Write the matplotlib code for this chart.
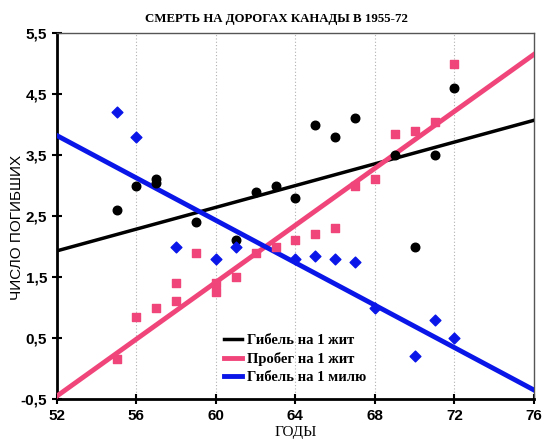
import numpy as np
import matplotlib
matplotlib.use('Agg')
import matplotlib.pyplot as plt
import matplotlib.ticker as ticker

#
# Data
#

# Гибель на 1 жит (black circles)
deaths_pop_years = [55, 56, 57, 57, 59, 61, 62, 63, 64, 65, 66, 67, 69, 70, 71, 72]
deaths_pop_values = [2.6, 3.0, 3.1, 3.05, 2.4, 2.1, 2.9, 3.0, 2.8, 4.0, 3.8, 4.1, 3.5, 2.0, 3.5, 4.6]

# Пробег на 1 жит (pink squares)
miles_pop_years = [55, 56, 57, 58, 58, 59, 60, 60, 61, 62, 63, 64, 65, 66, 67, 68, 69, 70, 71, 72]
miles_pop_values = [0.15, 0.85, 1.0, 1.1, 1.4, 1.9, 1.25, 1.4, 1.5, 1.9, 2.0, 2.1, 2.2, 2.3, 3.0, 3.1, 3.85, 3.9, 4.05, 5.0]

# Гибель на 1 милю (blue diamonds)
deaths_mile_years = [55, 56, 58, 60, 61, 64, 65, 66, 67, 68, 70, 71, 72]
deaths_mile_values = [4.2, 3.8, 2.0, 1.8, 2.0, 1.8, 1.85, 1.8, 1.75, 1.0, 0.2, 0.8, 0.5]

# Fitted lines, value at the left and right end of the axis
fit_years = [52, 76]
fit_deaths_pop = [1.93, 4.07]
fit_miles_pop = [-0.45, 5.15]
fit_deaths_mile = [3.82, -0.35]

x_ticks = [52, 56, 60, 64, 68, 72, 76]
y_ticks = [-0.5, 0.5, 1.5, 2.5, 3.5, 4.5, 5.5]

black = '#000000'
pink = '#F0457A'
blue = '#0A16E8'

#
# Graph
#

fig = plt.figure(figsize=(5.42, 4.41), dpi=100)
ax = fig.add_axes([0.105, 0.095, 0.88, 0.83])

serif = ['Liberation Serif', 'DejaVu Serif']
sans = ['Liberation Sans', 'DejaVu Sans']

for x in x_ticks[1:-1]:
    ax.axvline(x, color='#b0b0b0', linestyle=(0, (1, 2)), linewidth=0.8, zorder=0)

ax.plot(fit_years, fit_deaths_pop, color=black, linewidth=2.5, label='Гибель на 1 жит', zorder=3)
ax.plot(fit_years, fit_miles_pop, color=pink, linewidth=3.5, label='Пробег на 1 жит', zorder=3)
ax.plot(fit_years, fit_deaths_mile, color=blue, linewidth=3.5, label='Гибель на 1 милю', zorder=3)

ax.scatter(deaths_pop_years, deaths_pop_values, marker='o', s=38, color=black, zorder=4)
ax.scatter(miles_pop_years, miles_pop_values, marker='s', s=34, color=pink, zorder=4)
ax.scatter(deaths_mile_years, deaths_mile_values, marker='D', s=30, color=blue, zorder=4)

ax.set_xlim(52, 76)
ax.set_ylim(-0.5, 5.5)
ax.set_xticks(x_ticks)
ax.set_yticks(y_ticks)
ax.yaxis.set_major_formatter(ticker.FuncFormatter(lambda v, p: f'{v:.1f}'.replace('.', ',')))
ax.tick_params(direction='inout', length=7, width=1.5, labelsize=11)
for lab in ax.get_xticklabels() + ax.get_yticklabels():
    lab.set_family(sans)
    lab.set_fontweight('bold')

ax.spines['left'].set_linewidth(2)
ax.spines['bottom'].set_linewidth(2)
ax.spines['top'].set_linewidth(1)
ax.spines['right'].set_linewidth(1)
ax.spines['top'].set_color('#555555')
ax.spines['right'].set_color('#555555')

ax.set_title('СМЕРТЬ НА ДОРОГАХ КАНАДЫ В 1955-72', family=serif, fontweight='bold', fontsize=9.3,
             pad=8, x=0.46)
ax.set_xlabel('ГОДЫ', family=serif, fontsize=11, labelpad=2)
ax.set_ylabel('ЧИСЛО ПОГИБШИХ', family=sans, fontsize=11)
ax.yaxis.set_label_coords(-0.068, 0.47)

ax.legend(loc='lower center', bbox_to_anchor=(0.5, 0.005), frameon=False, handlelength=1.2,
          handletextpad=0.4, labelspacing=0.35, prop={'family': serif, 'weight': 'bold', 'size': 10.5})

fig.savefig('out.png', dpi=100)
